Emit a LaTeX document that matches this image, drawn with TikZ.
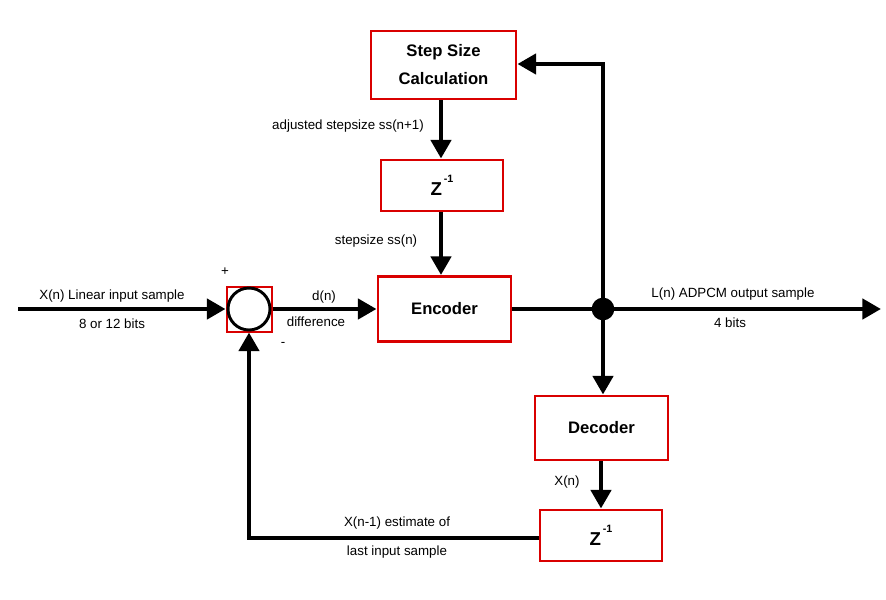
\documentclass[tikz,border=0pt]{standalone}
\usepackage{fontspec}
\setmainfont{Liberation Sans}
\usetikzlibrary{arrows.meta}
\tikzset{
  blockbox/.style={draw=red!85!black,line width=2.2pt,fill=white,inner sep=0pt,font=\fontsize{12.5}{17}\selectfont\bfseries,align=center},
  sig/.style={line width=3.4pt,-{Triangle[length=14pt,width=15pt]}},
  wire/.style={line width=3.4pt},
  lbl/.style={font=\fontsize{10}{12}\selectfont,inner sep=0pt},
}
\newcommand{\zinv}{{\fontsize{14}{16}\selectfont Z}\raisebox{1.5ex}{\fontsize{8}{9}\selectfont\,-1}}
\begin{document}
\begin{tikzpicture}[x=0.75pt,y=-0.75pt]
      \useasboundingbox (0,0) rectangle (886,600);%

      \node[blockbox,minimum width=108.75pt,minimum height=51pt] (stepcalc) at (443.5,65) {Step Size\\[4pt]Calculation};%
      \node[blockbox,minimum width=91.5pt,minimum height=38.25pt] (zone) at (442,185.5) {\zinv};%
      \node[blockbox,minimum width=99.75pt,minimum height=48.75pt] (encoder) at (444.5,309) {Encoder};%
      \node[blockbox,minimum width=99.75pt,minimum height=48pt] (decoder) at (601.5,428) {Decoder};%
      \node[blockbox,minimum width=91.5pt,minimum height=38.25pt] (ztwo) at (601,535.5) {\zinv};%

      \node[draw=red!85!black,line width=1.5pt,minimum size=33.75pt,inner sep=0pt] (sumbox) at (249,309) {};%
      \node[circle,draw,line width=2.2pt,minimum size=31.5pt,inner sep=0pt] (summer) at (249,309) {};%

      \coordinate (junction) at (603,309);%
      \coordinate (in) at (18,309);%
      \coordinate (out) at (881,309);%
      \coordinate (upcorner) at (603,64);%
      \coordinate (lowcorner) at (249,538);%

      \draw[sig] (in) -- (sumbox.west);%
      \draw[sig] (sumbox.east) -- (encoder.west);%
      \draw[wire] (encoder.east) -- (junction);%
      \draw[sig] (junction) -- (out);%
      \draw[sig] (junction) -- (upcorner) -- (stepcalc.east |- upcorner);%
      \draw[sig] (junction) -- (decoder.north -| junction);%
      \draw[sig] (stepcalc.south -| 441,0) -- (zone.north -| 441,0);%
      \draw[sig] (zone.south -| 441,0) -- (encoder.north -| 441,0);%
      \draw[sig] (decoder.south -| 601,0) -- (ztwo.north -| 601,0);%
      \draw[sig] (ztwo.west |- lowcorner) -- (lowcorner) -- (sumbox.south);%

      \node[circle,fill,inner sep=0pt,minimum size=17pt] (dot) at (junction) {};%

      \node[lbl] (inname) at (112,296) {X(n) Linear input sample};%
      \node[lbl] (inbits) at (112,324) {8 or 12 bits};%
      \node[lbl] (plus) at (225,272) {+};%
      \node[lbl] (minus) at (283,344) {-};%
      \node[lbl] (dn) at (324,297) {d(n)};%
      \node[lbl] (diff) at (316,322) {difference};%
      \node[lbl] (adj) at (348,126) {adjusted stepsize ss(n+1)};%
      \node[lbl] (ssn) at (376,241) {stepsize ss(n)};%
      \node[lbl] (outname) at (733,294) {L(n) ADPCM output sample};%
      \node[lbl] (outbits) at (730,323) {4 bits};%
      \node[lbl] (xn) at (567,482) {X(n)};%
      \node[lbl] (est) at (397,523) {X(n-1) estimate of};%
      \node[lbl] (last) at (397,552) {last input sample};%
    \end{tikzpicture}
\end{document}
